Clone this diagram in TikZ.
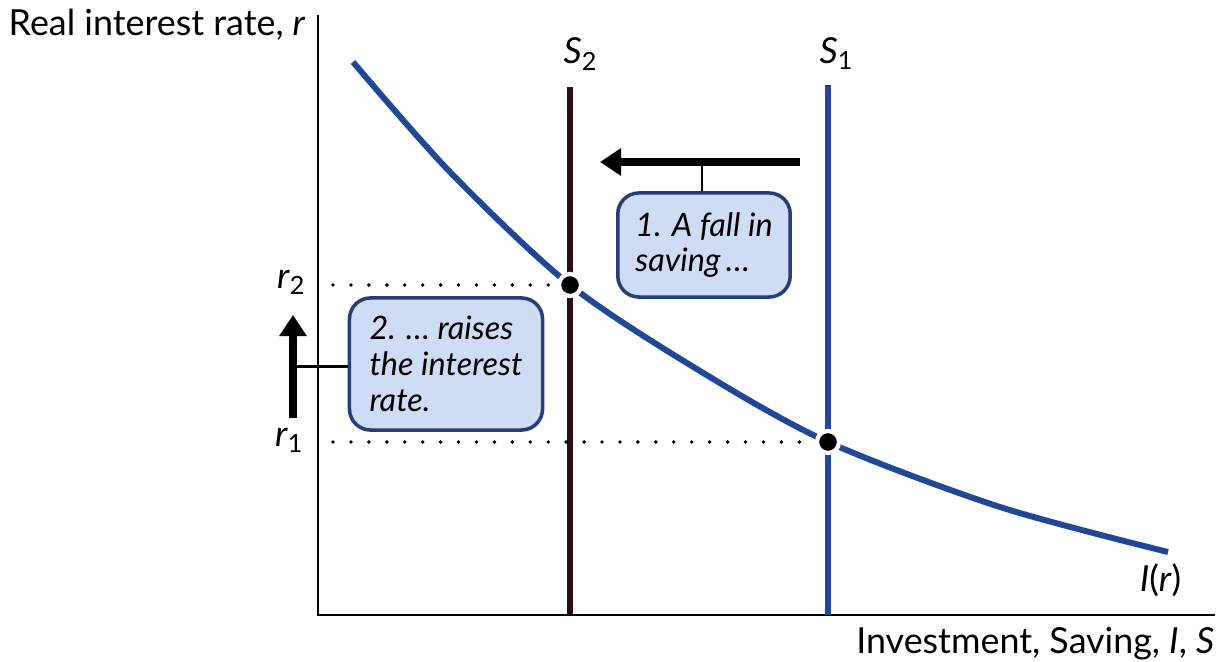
\documentclass[tikz,border=0pt]{standalone}
\usepackage{fontspec}
\setmainfont{Lato}
\usepackage{xcolor}
\usepackage{tikz}
\usetikzlibrary{arrows.meta}
\definecolor{curveblue}{RGB}{32,72,150}
\definecolor{shiftred}{RGB}{45,12,18}
\definecolor{boxfill}{RGB}{207,220,245}
\definecolor{boxedge}{RGB}{40,60,120}

\begin{document}
\begin{tikzpicture}[x=0.01cm, y=-0.01cm,
  box/.style={draw=boxedge, fill=boxfill, line width=1pt, rounded corners=6pt, align=left,
    font=\fontsize{9.2}{10.2}\selectfont\itshape, inner sep=5pt},
  pt/.style={circle, fill=black, draw=white, line width=1.2pt, minimum size=0.22cm, inner sep=0pt},
  lbl/.style={font=\fontsize{10.2}{12}\selectfont},
  guide/.style={line width=1.1pt, dash pattern=on 0pt off 5.1pt, line cap=round},
  move/.style={line width=2pt, -{Triangle[length=6pt, width=7.5pt]}}]
  \useasboundingbox (0,0) rectangle (1219,661);
  % axes
  \coordinate (O) at (318,615);
  \coordinate (ytop) at (318,15);
  \coordinate (xend) at (1215,615);
  \draw[line width=0.7pt] (ytop) -- (O) -- (xend);
  \node[lbl, anchor=base west, inner sep=0pt] (ylab) at (8,36) {Real interest rate, \textit{r}};
  \node[lbl, anchor=base east, inner sep=0pt] (xlab) at (1215,653) {Investment, Saving, \textit{I}, \textit{S}};
  % saving lines
  \coordinate (s2top) at (570,87);
  \coordinate (s1top) at (828,85);
  \draw[shiftred, line width=1.7pt] (s2top) -- (s2top |- O);
  \draw[curveblue, line width=1.7pt] (s1top) -- (s1top |- O);
  \node[lbl, anchor=base] (s2) at (581,64) {\textit{S}\textsubscript{2}};
  \node[lbl, anchor=base] (s1) at (837,64) {\textit{S}\textsubscript{1}};
  % investment curve
  \draw[curveblue, line width=1.7pt] plot[smooth] coordinates
    {(353,62) (450,172) (570,285) (700,371) (828,442) (1000,507) (1168,552)};
  \node[lbl, anchor=base east, inner sep=0pt] (inv) at (1182,591) {\textit{I}(\textit{r})};
  % equilibria
  \node[pt] (E2) at (570,285) {};
  \node[pt] (E1) at (828,442) {};
  \draw[guide] ([xshift=0.15cm]E2 -| O) -- (E2.west);
  \draw[guide] ([xshift=0.15cm]E1 -| O) -- (E1.west);
  \node[lbl, anchor=east, inner sep=0pt] (r2) at (307,282) {\textit{r}\textsubscript{2}};
  \node[lbl, anchor=east, inner sep=0pt] (r1) at (305,440) {\textit{r}\textsubscript{1}};
  % boxes
  \node[box, minimum width=1.72cm, minimum height=1.04cm] (b1) at (704,245)
    {1. A fall in\\saving\,\dots};
  \node[box, minimum width=1.93cm, minimum height=1.32cm] (b2) at (446,364)
    {2. \dots\ raises\\the interest\\rate.};
  % shift arrows
  \coordinate (h1) at (800,162);
  \coordinate (h2) at (600,162);
  \draw[move] (h1) -- coordinate[pos=0.49] (m1) (h2);
  \draw[line width=0.6pt] (m1) -- (m1 |- b1.north);
  \coordinate (v1) at (293,418);
  \coordinate (v2) at (293,315);
  \draw[move] (v1) -- coordinate (m2) (v2);
  \draw[line width=0.6pt] (m2) -- (m2 -| b2.west);
\end{tikzpicture}
\end{document}
